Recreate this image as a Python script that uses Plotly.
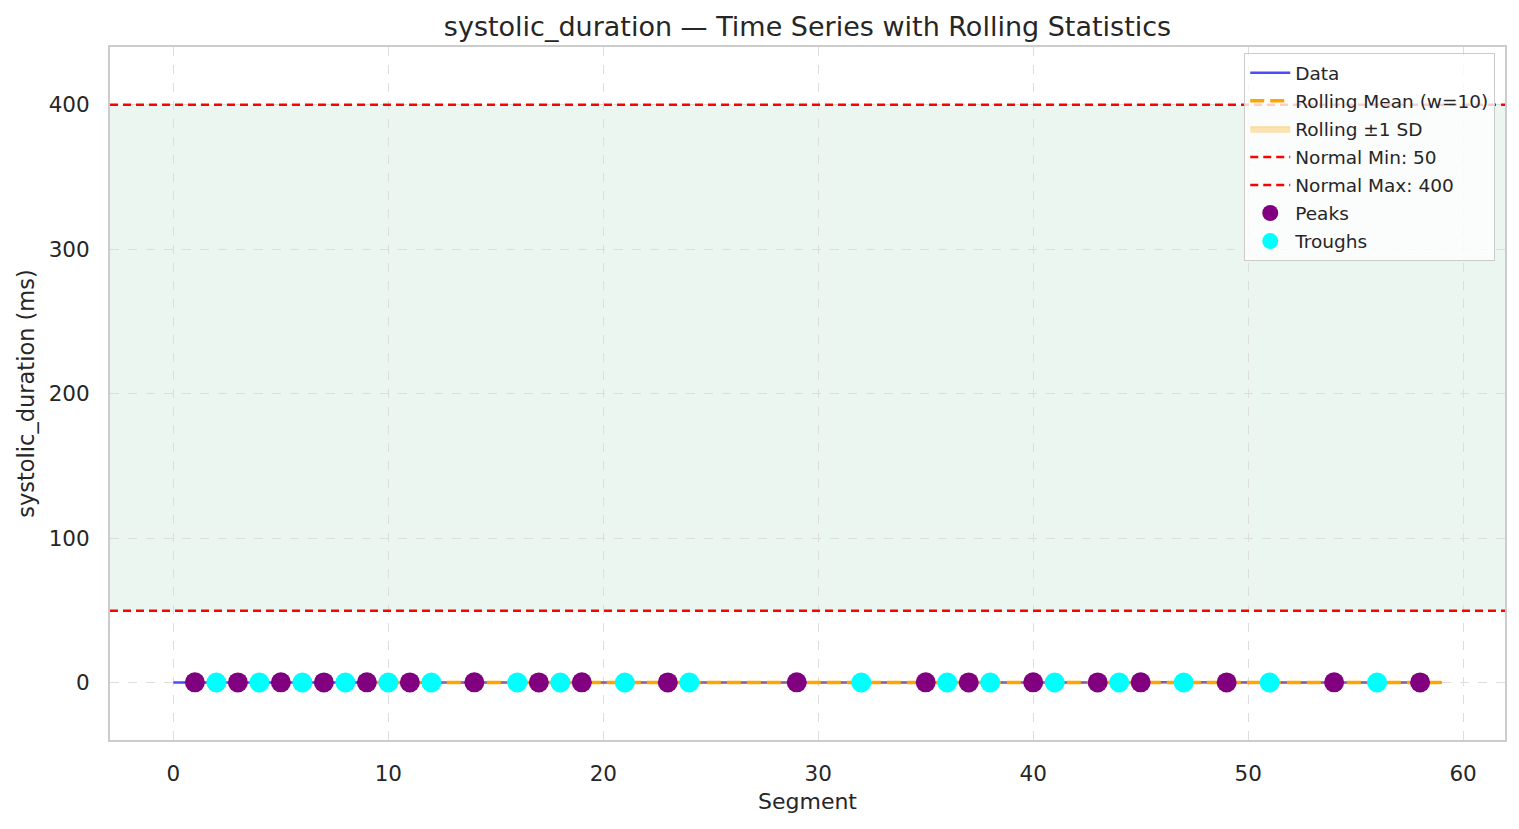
import numpy as np
import pandas as pd
import plotly.graph_objects as go

segments = list(range(60))
values = [0.34, 0.38, 0.31, 0.37, 0.30, 0.39, 0.32, 0.36, 0.29, 0.38,
          0.31, 0.37, 0.30, 0.33, 0.39, 0.35, 0.30, 0.36, 0.31, 0.38,
          0.34, 0.29, 0.33, 0.37, 0.30, 0.32, 0.33, 0.35, 0.36, 0.39,
          0.35, 0.33, 0.29, 0.32, 0.35, 0.38, 0.31, 0.37, 0.30, 0.34,
          0.39, 0.31, 0.34, 0.37, 0.30, 0.38, 0.34, 0.29, 0.33, 0.37,
          0.34, 0.30, 0.32, 0.35, 0.38, 0.34, 0.30, 0.33, 0.37, 0.34]
peak_idx = [1, 3, 5, 7, 9, 11, 14, 17, 19, 23, 29, 35, 37, 40, 43, 45, 49, 54, 58]
trough_idx = [2, 4, 6, 8, 10, 12, 16, 18, 21, 24, 32, 36, 38, 41, 44, 47, 51, 56]
window = 10
normal_min = 50
normal_max = 400
x_ticks = [0, 10, 20, 30, 40, 50, 60]
y_ticks = [0, 100, 200, 300, 400]

s = pd.Series(values, index=segments)
roll_mean = s.rolling(window).mean()
roll_sd = s.rolling(window).std()

FONT = "DejaVu Sans"
TXT = "#262626"

fig = go.Figure()

# Normal range band
fig.add_shape(type="rect", xref="x domain", yref="y", x0=0, x1=1, y0=normal_min, y1=normal_max,
              fillcolor="rgba(46,160,90,0.09)", line_width=0, layer="below")

fig.add_trace(go.Scatter(x=segments, y=values, mode="lines", name="Data", legendgroup="a",
                         line=dict(color="rgba(0,0,255,0.7)", width=2.5)))
fig.add_trace(go.Scatter(x=segments, y=roll_mean.values, mode="lines", legendgroup="b",
                         name=f"Rolling Mean (w={window})",
                         line=dict(color="orange", width=3.5, dash="14px,6px")))
upper = (roll_mean + roll_sd).values
lower = (roll_mean - roll_sd).values
fig.add_trace(go.Scatter(x=segments, y=lower, mode="lines", line=dict(width=0), legendgroup="c",
                         showlegend=False, hoverinfo="skip"))
fig.add_trace(go.Scatter(x=segments, y=upper, mode="lines", fill="tonexty", legendgroup="c",
                         fillcolor="rgba(255,165,0,0.3)", line=dict(width=1, color="rgba(255,165,0,0.35)"),
                         name="Rolling ±1 SD"))
fig.add_trace(go.Scatter(x=[None], y=[None], mode="lines", name=f"Normal Min: {normal_min}", legendgroup="d",
                         line=dict(color="red", width=2.5, dash="8px,5px")))
fig.add_trace(go.Scatter(x=[None], y=[None], mode="lines", name=f"Normal Max: {normal_max}", legendgroup="e",
                         line=dict(color="red", width=2.5, dash="8px,5px")))
fig.add_trace(go.Scatter(x=peak_idx, y=[values[i] for i in peak_idx], mode="markers", name="Peaks",
                         legendgroup="f", marker=dict(color="purple", size=20, line_width=0)))
fig.add_trace(go.Scatter(x=trough_idx, y=[values[i] for i in trough_idx], mode="markers", name="Troughs",
                         legendgroup="g", marker=dict(color="cyan", size=20, line_width=0)))

for yv in (normal_min, normal_max):
    fig.add_shape(type="line", xref="x domain", yref="y", x0=0, x1=1, y0=yv, y1=yv,
                  line=dict(color="red", width=2.5, dash="8px,5px"), layer="above")

fig.update_layout(
    width=1519, height=829,
    margin=dict(l=110, r=14, t=47, b=89),
    paper_bgcolor="white", plot_bgcolor="white",
    font=dict(family=FONT, color=TXT, size=17),
    title=dict(text="systolic_duration — Time Series with Rolling Statistics",
               x=0.5, xref="paper", xanchor="center", y=0.968, yanchor="middle",
               font=dict(size=27, color=TXT)),
    showlegend=True,
    legend=dict(x=0.993, y=0.991, xanchor="right", yanchor="top",
                bgcolor="rgba(255,255,255,0.8)", bordercolor="#cccccc", borderwidth=1,
                font=dict(size=18.5, color=TXT), traceorder="grouped", tracegroupgap=1,
                itemwidth=40),
)
fig.update_xaxes(range=[-2.95, 61.95], tickvals=x_ticks, showgrid=True,
                 gridcolor="#dddddd", griddash="dash", gridwidth=1, zeroline=False,
                 showline=True, mirror=True, linecolor="#cccccc", linewidth=2,
                 ticks="", tickfont=dict(size=21.5), ticklabelstandoff=13,
                 title=dict(text="Segment", font=dict(size=22), standoff=9))
fig.update_yaxes(range=[-39.5, 440], tickvals=y_ticks, showgrid=True,
                 gridcolor="#dddddd", griddash="dash", gridwidth=1, zeroline=False,
                 showline=True, mirror=True, linecolor="#cccccc", linewidth=2,
                 ticks="", tickfont=dict(size=21.5), ticklabelstandoff=14,
                 title=dict(text="systolic_duration (ms)", font=dict(size=22.5), standoff=8))

fig.write_html("out.html")
